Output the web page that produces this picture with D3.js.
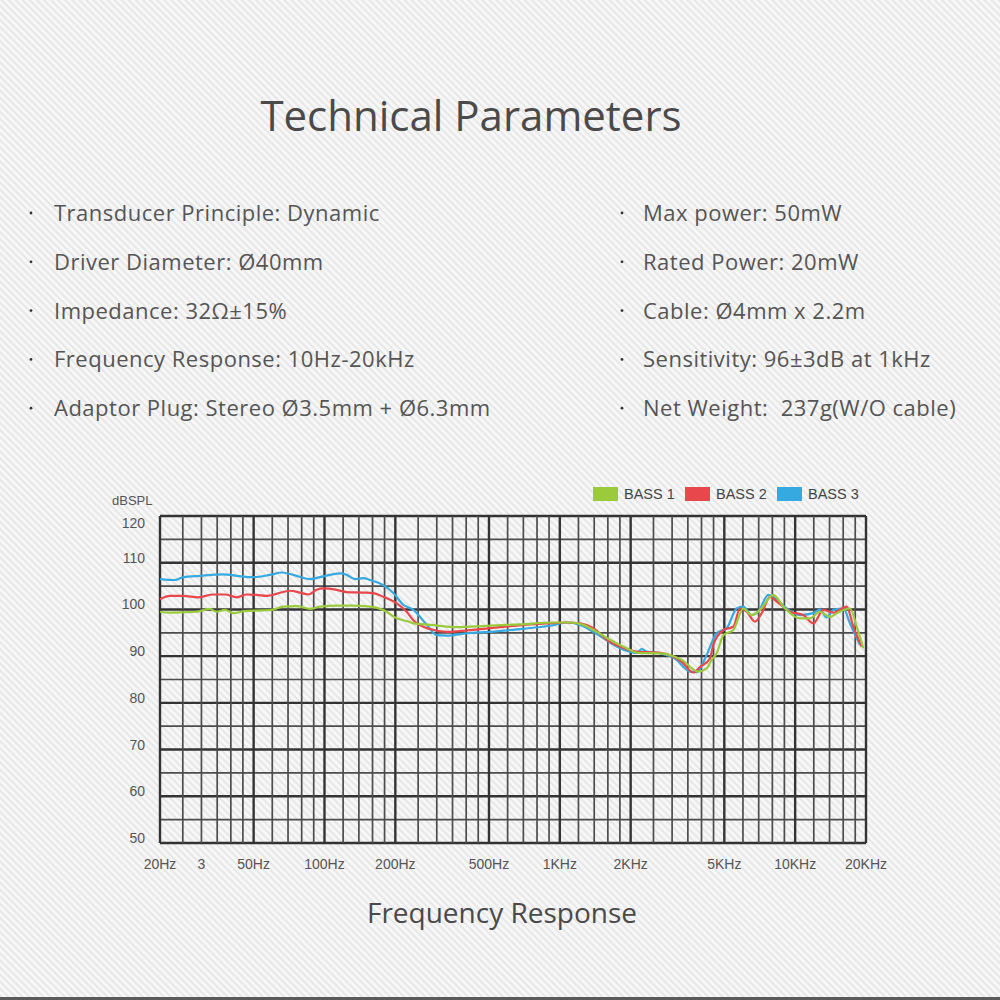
<!DOCTYPE html>
<html>
<head>
<meta charset="utf-8">
<script src="https://cdn.jsdelivr.net/npm/d3@7"></script>
<style>
  html, body { margin: 0; padding: 0; background: #f5f5f5; }
  svg { display: block; }
  text { white-space: pre; }
</style>
</head>
<body>
<svg id="chart" width="1000" height="1000"></svg>
<script>
// ---------------- DATA ----------------
const titleText = "Technical Parameters";
const subtitleText = "Frequency Response";
const specLeft = [
  "Transducer Principle: Dynamic",
  "Driver Diameter: Ø40mm",
  "Impedance: 32Ω±15%",
  "Frequency Response: 10Hz-20kHz",
  "Adaptor Plug: Stereo Ø3.5mm + Ø6.3mm"
];
const specRight = [
  "Max power: 50mW",
  "Rated Power: 20mW",
  "Cable: Ø4mm x 2.2m",
  "Sensitivity: 96±3dB at 1kHz",
  "Net Weight:  237g(W/O cable)"
];

const seriesNames = ["BASS 1", "BASS 2", "BASS 3"];

const yTickValues = [50, 60, 70, 80, 90, 100, 110, 120];
const xLabelValues = [20, 30, 50, 100, 200, 500, 1000, 2000, 5000, 10000, 20000];
const xLabelTexts = ["20Hz", "3", "50Hz", "100Hz", "200Hz", "500Hz", "1KHz", "2KHz", "5KHz", "10KHz", "20KHz"];
const xMajorLines = [20, 50, 100, 200, 500, 1000, 2000, 5000, 10000, 20000];
const xMinorLines = [25, 30, 35, 40, 45, 60, 70, 80, 90, 120, 140, 160, 180,
  250, 300, 350, 400, 450, 600, 700, 800, 900, 1200, 1400, 1600, 1800,
  2500, 3000, 3500, 4000, 4500, 6000, 7000, 8000, 9000, 12000, 14000, 16000, 18000];

// BASS 1 (green)
const bass1Freq = [20, 22.05, 25.1, 28.6, 32.6, 34.8, 37.8, 41.0, 46.7, 55.0,
  59.7, 66.8, 76.2, 86.8, 95.7, 112.7, 132.6, 156.1, 177.8, 202.7,
  227.0, 238.5, 280.8, 364.8, 488.8, 677.6, 938, 1105, 1258, 1435,
  1634, 1925, 2156, 2667, 3297, 3878, 4208, 4417, 4641, 4955,
  5459, 6022, 6531, 7090, 8075, 8913, 10488, 11562, 12752, 14061,
  15020, 17100, 18270, 19480];
const bass1Db = [99.5, 99.3, 99.4, 99.5, 100.1, 99.5, 99.9, 99.2, 99.7, 99.8,
  99.9, 100.6, 100.7, 100.1, 100.6, 100.8, 100.8, 100.6, 99.9, 98.1,
  97.4, 97.0, 96.7, 96.2, 96.5, 96.8, 97.2, 97.2, 96.7, 95.2,
  93.5, 91.7, 90.7, 90.6, 89.2, 86.7, 87.4, 89.2, 90.6, 94.5,
  95.6, 100.2, 98.8, 99.9, 103.1, 100.6, 98.1, 98.1, 99.5, 98.4,
  99.2, 100.2, 96.3, 91.7];

// BASS 2 (red)
const bass2Freq = [20, 22.05, 25.1, 29.1, 33.7, 37.8, 42.4, 46.7, 51.5, 56.8,
  71.4, 78.7, 85.3, 92.6, 98.8, 112.7, 124.3, 146.2, 161.2, 177.8,
  202.7, 223.4, 238.5, 280.8, 330.5, 458.1, 634, 879, 1069, 1218,
  1387, 1583, 1802, 2123, 2667, 3297, 3692, 3944, 4346, 4488,
  4955, 5459, 5830, 6223, 6746, 7210, 7815, 8352, 9508, 10831,
  11940, 13171, 14523, 16565, 17665, 19190];
const bass2Db = [102.2, 102.9, 102.9, 102.6, 103.2, 103.2, 102.6, 103.2, 103.1, 102.9,
  104.0, 103.6, 103.2, 104.2, 104.5, 104.2, 103.7, 103.6, 103.5, 102.7,
  101.3, 99.5, 97.7, 95.8, 95.2, 95.8, 96.5, 97.0, 97.2, 97.0,
  96.0, 93.5, 92.0, 91.0, 90.7, 88.8, 86.5, 87.7, 89.5, 92.4,
  95.6, 96.3, 100.2, 99.5, 97.4, 99.2, 102.7, 101.7, 99.5, 98.8,
  97.0, 99.9, 99.3, 100.6, 96.3, 92.0];

// BASS 3 (blue)
const bass3Freq = [20, 23.2, 25.1, 29.6, 37.2, 42.4, 49.8, 58.7, 65.8, 73.7,
  86.8, 95.7, 105.5, 118.3, 124.3, 134.8, 146.2, 156.1, 177.8, 196.1,
  216.2, 238.5, 271.9, 299.9, 330.5, 401.9, 505, 677.6, 908, 1069,
  1218, 1482, 1802, 2123, 2229, 2340, 2667, 3139, 3350, 3575,
  3828, 4141, 4641, 5119, 5642, 6022, 6531, 6970, 7690, 8207,
  9204, 10488, 11940, 12752, 13615, 14523, 16025, 17100, 18870];
const bass3Db = [106.5, 106.3, 106.9, 107.2, 107.5, 107.2, 106.9, 107.4, 107.9, 107.4,
  106.5, 106.9, 107.4, 107.7, 107.4, 106.5, 106.7, 106.3, 105.2, 103.5,
  101.0, 99.9, 96.7, 94.5, 94.4, 94.9, 95.2, 95.8, 96.5, 97.2,
  96.7, 94.3, 91.7, 90.7, 91.5, 91.0, 90.6, 89.2, 87.7, 86.7,
  86.6, 89.5, 94.9, 96.0, 100.2, 100.6, 98.8, 99.5, 103.1, 102.4,
  100.2, 98.8, 99.2, 100.0, 98.3, 99.9, 100.2, 97.0, 92.4];

// ---------------- DRAW ----------------
const colors = ["#9bcb3c", "#e8474c", "#36a9e1"];
const series = [
  { name: seriesNames[0], color: colors[0], pts: bass1Freq.map((f, i) => [f, bass1Db[i]]) },
  { name: seriesNames[1], color: colors[1], pts: bass2Freq.map((f, i) => [f, bass2Db[i]]) },
  { name: seriesNames[2], color: colors[2], pts: bass3Freq.map((f, i) => [f, bass3Db[i]]) }
];

(function draw() {
const svg = d3.select("#chart");
const defs = svg.append("defs");
const pat = defs.append("pattern")
  .attr("id", "stripes").attr("patternUnits", "userSpaceOnUse")
  .attr("width", 5).attr("height", 5)
  .attr("patternTransform", "rotate(-45)");
pat.append("rect").attr("width", 5).attr("height", 5).attr("fill", "#f7f7f7");
pat.append("rect").attr("width", 2).attr("height", 5).attr("fill", "#e7e7e7");

svg.append("rect").attr("width", 1000).attr("height", 1000).attr("fill", "url(#stripes)");
svg.append("rect").attr("x", 0).attr("y", 997).attr("width", 1000).attr("height", 3).attr("fill", "#5a5a5a");

const textFont = "'Open Sans', 'DejaVu Sans', sans-serif";
const axisFont = "'Liberation Sans', Arial, sans-serif";

// Title
svg.append("text").attr("x", 471).attr("y", 114)
  .attr("text-anchor", "middle").attr("dominant-baseline", "central")
  .attr("font-family", textFont).attr("font-size", 42).attr("fill", "#4a4a4a")
  .text(titleText);

// Specs
function specColumn(list, bulletX, textX) {
  const g = svg.append("g");
  list.forEach((t, i) => {
    const yy = 212 + i * 48.8;
    g.append("circle").attr("cx", bulletX).attr("cy", yy + 1).attr("r", 1.4).attr("fill", "#333");
    g.append("text").attr("x", textX).attr("y", yy)
      .attr("dominant-baseline", "central")
      .attr("font-family", textFont).attr("font-size", 22)
      .attr("letter-spacing", 0.5).attr("fill", "#555")
      .text(t);
  });
}
specColumn(specLeft, 31, 54);
specColumn(specRight, 622, 643);

// Scales
const pLeft = 160, pRight = 866, pTop = 516, pBottom = 843;
const x = d3.scaleLog().domain([20, 20000]).range([pLeft, pRight]);
const y = d3.scaleLinear().domain([50, 120]).range([pBottom, pTop]);

// Grid
const grid = svg.append("g");
const yGridVals = d3.range(50, 121, 5);
grid.selectAll("line.h").data(yGridVals).join("line")
  .attr("x1", pLeft).attr("x2", pRight)
  .attr("y1", d => y(d)).attr("y2", d => y(d))
  .attr("stroke", d => d % 10 === 0 ? "#333" : "#4d4d4d")
  .attr("stroke-width", d => d % 10 === 0 ? 2.4 : 1.7);
grid.selectAll("line.vmin").data(xMinorLines).join("line")
  .attr("x1", d => x(d)).attr("x2", d => x(d))
  .attr("y1", pTop).attr("y2", pBottom)
  .attr("stroke", "#4d4d4d").attr("stroke-width", 1.7);
grid.selectAll("line.vmaj").data(xMajorLines).join("line")
  .attr("x1", d => x(d)).attr("x2", d => x(d))
  .attr("y1", pTop).attr("y2", pBottom)
  .attr("stroke", "#333").attr("stroke-width", 2.4);

// Axis labels
const ax = svg.append("g").attr("font-family", axisFont).attr("font-size", 14).attr("fill", "#555");
ax.selectAll("text.y").data(yTickValues).join("text")
  .attr("x", 145).attr("y", d => Math.max(y(d) - 5, 523))
  .attr("text-anchor", "end").attr("dominant-baseline", "central")
  .text(d => d);
ax.append("text").attr("x", 112).attr("y", 500).attr("dominant-baseline", "central")
  .attr("font-size", 13).text("dBSPL");
ax.selectAll("text.x").data(xLabelValues).join("text")
  .attr("x", d => x(d)).attr("y", 864)
  .attr("text-anchor", "middle").attr("dominant-baseline", "central")
  .text((d, i) => xLabelTexts[i]);

// Curves
const line = d3.line().x(d => x(d[0])).y(d => y(d[1])).curve(d3.curveMonotoneX);
const curveOrder = [2, 1, 0];
svg.append("g").selectAll("path").data(curveOrder.map(i => series[i])).join("path")
  .attr("d", d => line(d.pts))
  .attr("fill", "none").attr("stroke", d => d.color)
  .attr("stroke-width", 2.2).attr("stroke-linejoin", "round");

// Legend
const lg = svg.append("g").attr("font-family", axisFont).attr("font-size", 14.5).attr("fill", "#444");
series.forEach((s, i) => {
  const lx = 593 + i * 92;
  lg.append("rect").attr("x", lx).attr("y", 487).attr("width", 25).attr("height", 14).attr("fill", s.color);
  lg.append("text").attr("x", lx + 31).attr("y", 494).attr("dominant-baseline", "central").text(s.name);
});

// Subtitle
svg.append("text").attr("x", 502).attr("y", 912)
  .attr("text-anchor", "middle").attr("dominant-baseline", "central")
  .attr("font-family", textFont).attr("font-size", 28).attr("fill", "#4a4a4a")
  .text(subtitleText);
})();
</script>
</body>
</html>
